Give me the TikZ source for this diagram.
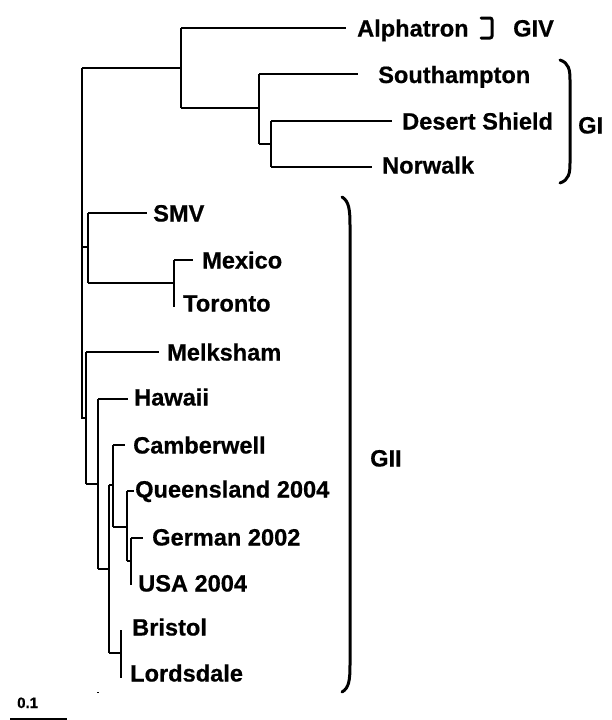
\documentclass[tikz,border=0pt]{standalone}
\usepackage{fontspec}
\setmainfont{Liberation Sans}
\newfontfamily\labfont{Liberation Sans}[FakeBold=0.6]
\begin{document}
\begin{tikzpicture}[x=1pt,y=-1pt,
  branch/.style={line width=2pt,line join=miter},
  brk/.style={line width=3pt,line cap=round},
  lab/.style={anchor=base west,inner sep=0pt,font=\labfont\bfseries\fontsize{23.6}{27}\selectfont},
  scalelab/.style={anchor=base west,inner sep=0pt,font=\labfont\bfseries\fontsize{15}{17}\selectfont}]
\useasboundingbox (0,0) rectangle (612,720);
% internal nodes
\coordinate (r0) at (82,68);
\coordinate (r1) at (82,418);
\coordinate (n181) at (181,68);
\coordinate (n181t) at (181,28);
\coordinate (n181b) at (181,108);
\coordinate (n259) at (259,108);
\coordinate (n259t) at (259,74);
\coordinate (n259b) at (259,144);
\coordinate (n271) at (271,144);
\coordinate (n271t) at (271,121);
\coordinate (n271b) at (271,167);
\coordinate (rS) at (82,247);
\coordinate (nS) at (88,247);
\coordinate (nSt) at (88,213);
\coordinate (nSb) at (88,283);
\coordinate (nM) at (174,283);
\coordinate (nMt) at (174,260);
\coordinate (nMb) at (174,307);
\coordinate (n86) at (86,418);
\coordinate (n86t) at (86,352);
\coordinate (n86b) at (86,484);
\coordinate (n98) at (98,484);
\coordinate (n98t) at (98,399);
\coordinate (n98b) at (98,569);
\coordinate (n109) at (109,569);
\coordinate (n109t) at (109,485);
\coordinate (n109b) at (109,653);
\coordinate (n113) at (113,485);
\coordinate (n113t) at (113,445);
\coordinate (n113b) at (113,527);
\coordinate (n127) at (127,527);
\coordinate (n127t) at (127,491);
\coordinate (n127b) at (127,561);
\coordinate (n131) at (131,561);
\coordinate (n131t) at (131,538);
\coordinate (n131b) at (131,585);
\coordinate (n121) at (121,653);
\coordinate (n121t) at (121,630);
\coordinate (n121b) at (121,678);
% tips
\coordinate (tAlph) at (346,28);
\coordinate (tSouth) at (358,74);
\coordinate (tDes) at (392,121);
\coordinate (tNor) at (372,167);
\coordinate (tSMV) at (147,213);
\coordinate (tMex) at (193,260);
\coordinate (tMel) at (159,352);
\coordinate (tHaw) at (128,399);
\coordinate (tCam) at (125,445);
\coordinate (tQue) at (134,491);
\coordinate (tGer) at (143,538);
% labels
\node[lab] (lAlph) at (357,36.5) {Alphatron};
\node[lab] (lGIV) at (513,36.5) {GIV};
\node[lab] (lSouth) at (378,83) {Southampton};
\node[lab] (lDes) at (402,129.5) {Desert Shield};
\node[lab] (lNor) at (382,173.5) {Norwalk};
\node[lab] (lGI) at (578,133.5) {GI};
\node[lab] (lSMV) at (153,221.5) {SMV};
\node[lab] (lMex) at (202,268.5) {Mexico};
\node[lab] (lTor) at (183,311.5) {Toronto};
\node[lab] (lMel) at (167,360.5) {Melksham};
\node[lab] (lHaw) at (134,405.5) {Hawaii};
\node[lab] (lCam) at (133,453.5) {Camberwell};
\node[lab] (lQue) at (135,497.5) {Queensland 2004};
\node[lab] (lGer) at (152,545.5) {German 2002};
\node[lab] (lUSA) at (138,591.5) {USA 2004};
\node[lab] (lBri) at (132,635.5) {Bristol};
\node[lab] (lLor) at (130,681.5) {Lordsdale};
\node[lab] (lGII) at (370,466.5) {GII};
\node[scalelab] (lScale) at (17,708) {0.1};
% branches
\draw[branch] (r0) -- (r1) -- (n86);
\draw[branch] (r0) -- (n181);
\draw[branch] (n181t) -- (n181b);
\draw[branch] (n181t) -- (tAlph);
\draw[branch] (n181b) -- (n259);
\draw[branch] (n259t) -- (n259b);
\draw[branch] (n259t) -- (tSouth);
\draw[branch] (n259b) -- (n271);
\draw[branch] (n271t) -- (n271b);
\draw[branch] (n271t) -- (tDes);
\draw[branch] (n271b) -- (tNor);
\draw[branch] (rS) -- (nS);
\draw[branch] (nSt) -- (nSb);
\draw[branch] (nSt) -- (tSMV);
\draw[branch] (nSb) -- (nM);
\draw[branch] (nMt) -- (nMb);
\draw[branch] (nMt) -- (tMex);
\draw[branch] (n86t) -- (n86b);
\draw[branch] (n86t) -- (tMel);
\draw[branch] (n86b) -- (n98);
\draw[branch] (n98t) -- (n98b);
\draw[branch] (n98t) -- (tHaw);
\draw[branch] (n98b) -- (n109);
\draw[branch] (n109t) -- (n109b);
\draw[branch] (n109t) -- (n113);
\draw[branch] (n113t) -- (n113b);
\draw[branch] (n113t) -- (tCam);
\draw[branch] (n113b) -- (n127);
\draw[branch] (n127t) -- (n127b);
\draw[branch] (n127t) -- (tQue);
\draw[branch] (n127b) -- (n131);
\draw[branch] (n131t) -- (n131b);
\draw[branch] (n131t) -- (tGer);
\draw[branch] (n109b) -- (n121);
\draw[branch] (n121t) -- (n121b);
% stray tick and scale bar
\coordinate (dotA) at (97,692);
\coordinate (dotB) at (99,692);
\draw[line width=1pt] (dotA) -- (dotB);
\coordinate (sbA) at (10,719);
\coordinate (sbB) at (67,719);
\draw[line width=1.6pt] (sbA) -- (sbB);
% brackets
\coordinate (b4a) at (481,18);
\coordinate (b4b) at (492,18);
\coordinate (b4c) at (492,38);
\coordinate (b4d) at (481,38);
\draw[brk,rounded corners=2pt] (b4a) -- (b4b) -- (b4c) -- (b4d);
\coordinate (b1a) at (560,60);
\coordinate (b1b) at (570,80);
\coordinate (b1c) at (570,163);
\coordinate (b1d) at (560,183);
\draw[brk] (b1a) .. controls (569,63) and (570,70) .. (b1b) -- (b1c) .. controls (570,173) and (569,180) .. (b1d);
\coordinate (b2a) at (342,197);
\coordinate (b2b) at (350,225);
\coordinate (b2c) at (350,665);
\coordinate (b2d) at (342,692);
\draw[brk] (b2a) .. controls (349,201) and (350,210) .. (b2b) -- (b2c) .. controls (350,680) and (349,688) .. (b2d);
\end{tikzpicture}
\end{document}
